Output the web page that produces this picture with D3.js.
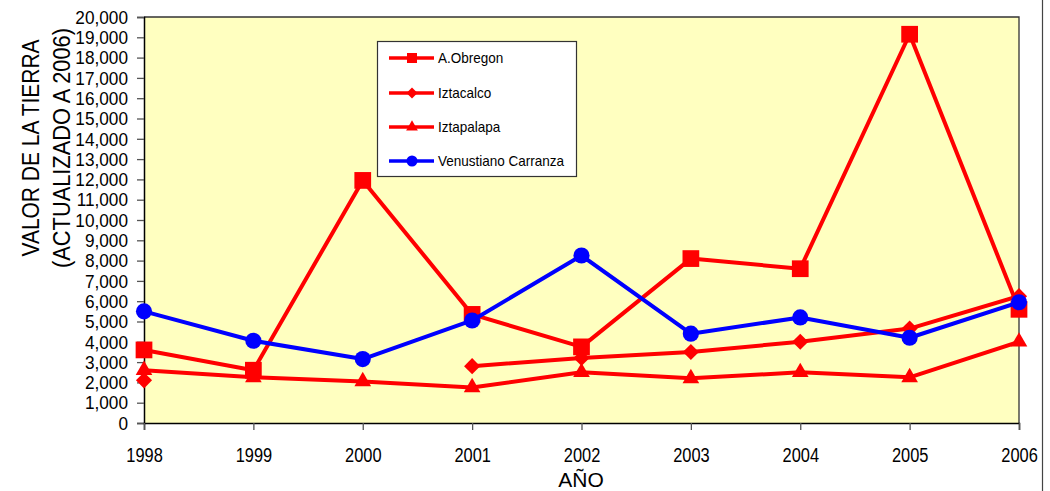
<!DOCTYPE html>
<html>
<head>
<meta charset="utf-8">
<script src="https://cdn.jsdelivr.net/npm/d3@7"></script>
<style>
  html, body { margin: 0; padding: 0; background: #ffffff; }
  svg { display: block; }
  text { font-family: "Liberation Sans", Arial, sans-serif; fill: #000; }
</style>
</head>
<body>
<svg id="chart" width="1050" height="491"></svg>
<script>
// Años del eje X
const years = [1998, 1999, 2000, 2001, 2002, 2003, 2004, 2005, 2006];

// Valor de la tierra por delegación (null = sin dato)
const aObregon   = [3600, 2600, 11950, 5350, 3750, 8100, 7600, 19150, 5600];
const iztacalco  = [2100, null, null, 2800, 3200, 3500, 4000, 4650, 6250];
const iztapalapa = [2600, 2250, 2050, 1750, 2500, 2200, 2500, 2250, 4000];
const venustiano = [5500, 4050, 3150, 5050, 8250, 4400, 5200, 4200, 5950];

const seriesNames = ["A.Obregon", "Iztacalco", "Iztapalapa", "Venustiano Carranza"];
const yTicks = d3.range(0, 20001, 1000);

// Símbolo de rombo: cuadrado girado 45°
const symbolRombo = {
  draw(context, size) {
    const r = Math.sqrt(size / 2);
    context.moveTo(0, -r);
    context.lineTo(r, 0);
    context.lineTo(0, r);
    context.lineTo(-r, 0);
    context.closePath();
  }
};

const series = [
  { name: seriesNames[0], values: aObregon,   color: "#ff0000", symbol: d3.symbolSquare,   size: 280, lsize: 100 },
  { name: seriesNames[1], values: iztacalco,  color: "#ff0000", symbol: symbolRombo,       size: 130, lsize: 60 },
  { name: seriesNames[2], values: iztapalapa, color: "#ff0000", symbol: d3.symbolTriangle, size: 120, lsize: 60 },
  { name: seriesNames[3], values: venustiano, color: "#0000ff", symbol: d3.symbolCircle,   size: 205, lsize: 95 }
];

// Estrecha el texto horizontalmente (aspecto de fuente condensada)
function condense(sel, factor) {
  sel.each(function () {
    const w = this.getComputedTextLength();
    d3.select(this).attr("textLength", w * factor).attr("lengthAdjust", "spacingAndGlyphs");
  });
}

const svg = d3.select("#chart");
const plot = { left: 144, right: 1019, top: 17, bottom: 423 };

const x = d3.scaleLinear().domain([1998, 2006]).range([plot.left, plot.right]);
const y = d3.scaleLinear().domain([0, 20000]).range([plot.bottom, plot.top]);

// Fondo del área de trazado
svg.append("rect")
  .attr("x", plot.left).attr("y", plot.top)
  .attr("width", plot.right - plot.left).attr("height", plot.bottom - plot.top)
  .attr("fill", "#ffffc0");

// Borde superior y derecho del área de trazado
svg.append("path")
  .attr("d", `M${plot.left},${plot.top}H${plot.right}V${plot.bottom}`)
  .attr("fill", "none").attr("stroke", "#333").attr("stroke-width", 1.3);

// Línea del borde exterior
svg.append("line")
  .attr("x1", 1042.5).attr("x2", 1042.5).attr("y1", 0).attr("y2", 491)
  .attr("stroke", "#444").attr("stroke-width", 1.2);

// Eje Y
const yAxis = svg.append("g")
  .attr("transform", `translate(${plot.left},0)`)
  .call(d3.axisLeft(y).tickValues(yTicks).tickFormat(d3.format(",")).tickSize(7).tickPadding(9));
yAxis.select(".domain").attr("stroke", "#000").attr("stroke-width", 1.5);
yAxis.selectAll(".tick line").attr("stroke", "#555").attr("stroke-width", 1.3);
yAxis.selectAll(".tick text").attr("font-size", 18.5).attr("font-family", null).attr("fill", "#000")
  .attr("dy", "0.34em");
condense(yAxis.selectAll(".tick text"), 0.93);

// Eje X
const xAxis = svg.append("g")
  .attr("transform", `translate(0,${plot.bottom})`)
  .call(d3.axisBottom(x).tickValues(years).tickFormat(d3.format("d")).tickSize(7).tickPadding(18));
xAxis.select(".domain").attr("stroke", "#000").attr("stroke-width", 1.5);
xAxis.selectAll(".tick line").attr("stroke", "#555").attr("stroke-width", 1.3);
xAxis.selectAll(".tick text").attr("font-size", 20).attr("font-family", null).attr("fill", "#000");
condense(xAxis.selectAll(".tick text"), 0.82);

// Títulos de los ejes
svg.append("text")
  .attr("x", 581).attr("y", 487)
  .attr("text-anchor", "middle").attr("font-size", 21)
  .text("AÑO");

const yTitle1 = svg.append("text")
  .attr("transform", "translate(39,148) rotate(-90)")
  .attr("text-anchor", "middle").attr("font-size", 23)
  .attr("textLength", 217).attr("lengthAdjust", "spacingAndGlyphs")
  .text("VALOR DE LA TIERRA");
const yTitle2 = svg.append("text")
  .attr("transform", "translate(70,148) rotate(-90)")
  .attr("text-anchor", "middle").attr("font-size", 23)
  .attr("textLength", 240).attr("lengthAdjust", "spacingAndGlyphs")
  .text("(ACTUALIZADO A 2006)");

// Líneas y marcadores
const line = d3.line()
  .defined(d => d.v !== null)
  .x(d => x(d.year))
  .y(d => y(d.v));

series.forEach(s => {
  const pts = years.map((yr, i) => ({ year: yr, v: s.values[i] }));
  const g = svg.append("g");
  g.append("path")
    .datum(pts)
    .attr("d", line)
    .attr("fill", "none")
    .attr("stroke", s.color)
    .attr("stroke-width", 4)
    .attr("stroke-linejoin", "round");
  g.selectAll("path.m")
    .data(pts.filter(d => d.v !== null))
    .join("path")
    .attr("class", "m")
    .attr("transform", d => `translate(${x(d.year)},${y(d.v)})`)
    .attr("d", d3.symbol().type(s.symbol).size(s.size))
    .attr("fill", s.color);
});

// Leyenda
const legend = svg.append("g").attr("transform", "translate(377,41)");
legend.append("rect")
  .attr("x", 0.5).attr("y", 0.5).attr("width", 199).attr("height", 135)
  .attr("fill", "#fff").attr("stroke", "#333").attr("stroke-width", 1.2);
const rowY = [17, 52, 86, 120];
series.forEach((s, i) => {
  const row = legend.append("g").attr("transform", `translate(0,${rowY[i]})`);
  row.append("line")
    .attr("x1", 12).attr("x2", 57).attr("y1", 0).attr("y2", 0)
    .attr("stroke", s.color).attr("stroke-width", 3.5);
  row.append("path")
    .attr("transform", "translate(35,0)")
    .attr("d", d3.symbol().type(s.symbol).size(s.lsize))
    .attr("fill", s.color);
  const t = row.append("text")
    .attr("x", 61).attr("y", 0).attr("dy", "0.36em")
    .attr("font-size", 15)
    .text(s.name);
  condense(t, 0.9);
});
</script>
</body>
</html>
